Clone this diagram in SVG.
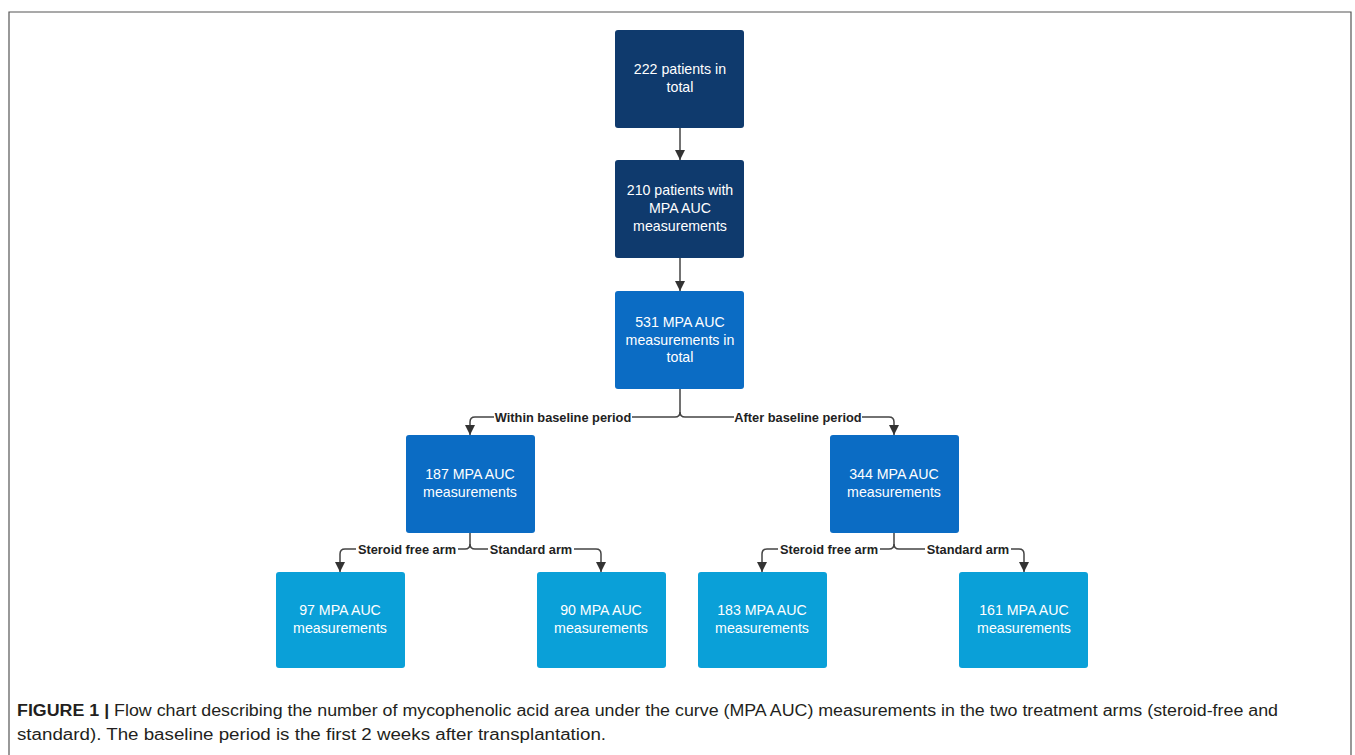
<svg xmlns="http://www.w3.org/2000/svg" width="1355" height="755" viewBox="0 0 1355 755">
<defs>
<marker id="arr" viewBox="0 0 10 10" refX="10" refY="5" markerWidth="10" markerHeight="11" markerUnits="userSpaceOnUse" orient="auto">
<path d="M0,0 L10,5 L0,10 Z" fill="#333"/>
</marker>
<style>
.n1{fill:#0f3a6d}
.n2{fill:#0b6cc4}
.n3{fill:#0aa0d8}
.bt{font-family:"Liberation Sans",Arial,sans-serif;font-size:14.2px;fill:#fff;text-anchor:middle}
.c{fill:none;stroke:#444;stroke-width:1.5}
.lb{font-family:"Liberation Sans",Arial,sans-serif;font-size:12.8px;font-weight:bold;fill:#222;text-anchor:middle}
.cap{font-family:"Liberation Sans",Arial,sans-serif;font-size:16px;fill:#231f20}
</style>
</defs>
<rect width="1355" height="755" fill="#fff"/>
<path d="M9,760 L9,12 L1351,12 L1351,760" fill="none" stroke="#555" stroke-width="1.2"/>
<g id="connectors">
<path class="c" d="M680,128 V160" marker-end="url(#arr)"/>
<path class="c" d="M680,258 V291" marker-end="url(#arr)"/>
<path class="c" d="M680,389 V412 Q680,417 675,417 H475 Q470,417 470,422 V435" marker-end="url(#arr)"/>
<path class="c" d="M680,412 Q680,417 685,417 H889 Q894,417 894,422 V435" marker-end="url(#arr)"/>
<path class="c" d="M470,533 V544 Q470,549 465,549 H345 Q340,549 340,554 V572" marker-end="url(#arr)"/>
<path class="c" d="M470,544 Q470,549 475,549 H596 Q601,549 601,554 V572" marker-end="url(#arr)"/>
<path class="c" d="M894,533 V544 Q894,549 889,549 H767 Q762,549 762,554 V572" marker-end="url(#arr)"/>
<path class="c" d="M894,544 Q894,549 899,549 H1019 Q1024,549 1024,554 V572" marker-end="url(#arr)"/>
<rect x="494" y="409" width="138" height="16" fill="#fff"/>
<text class="lb" x="563" y="421.5">Within baseline period</text>
<rect x="734" y="409" width="128" height="16" fill="#fff"/>
<text class="lb" x="798" y="421.5">After baseline period</text>
<rect x="356" y="541" width="102" height="16" fill="#fff"/>
<text class="lb" x="407" y="553.5">Steroid free arm</text>
<rect x="488" y="541" width="86" height="16" fill="#fff"/>
<text class="lb" x="531" y="553.5">Standard arm</text>
<rect x="778" y="541" width="102" height="16" fill="#fff"/>
<text class="lb" x="829" y="553.5">Steroid free arm</text>
<rect x="925" y="541" width="86" height="16" fill="#fff"/>
<text class="lb" x="968" y="553.5">Standard arm</text>
</g>
<g id="n222"><rect class="n1" x="615" y="30" width="129" height="98" rx="3"/>
<text class="bt" x="680" y="74">222 patients in</text><text class="bt" x="680" y="92">total</text></g>
<g id="n210"><rect class="n1" x="615" y="160" width="129" height="98" rx="3"/>
<text class="bt" x="680" y="195">210 patients with</text><text class="bt" x="680" y="213">MPA AUC</text><text class="bt" x="680" y="231">measurements</text></g>
<g id="n531"><rect class="n2" x="615" y="291" width="129" height="98" rx="3"/>
<text class="bt" x="680" y="327">531 MPA AUC</text><text class="bt" x="680" y="345">measurements in</text><text class="bt" x="680" y="362">total</text></g>
<g id="n187"><rect class="n2" x="406" y="435" width="129" height="98" rx="3"/>
<text class="bt" x="470" y="479">187 MPA AUC</text><text class="bt" x="470" y="497">measurements</text></g>
<g id="n344"><rect class="n2" x="830" y="435" width="129" height="98" rx="3"/>
<text class="bt" x="894" y="479">344 MPA AUC</text><text class="bt" x="894" y="497">measurements</text></g>
<g id="n97"><rect class="n3" x="276" y="572" width="129" height="96" rx="3"/>
<text class="bt" x="340" y="615">97 MPA AUC</text><text class="bt" x="340" y="633">measurements</text></g>
<g id="n90"><rect class="n3" x="537" y="572" width="129" height="96" rx="3"/>
<text class="bt" x="601" y="615">90 MPA AUC</text><text class="bt" x="601" y="633">measurements</text></g>
<g id="n183"><rect class="n3" x="698" y="572" width="129" height="96" rx="3"/>
<text class="bt" x="762" y="615">183 MPA AUC</text><text class="bt" x="762" y="633">measurements</text></g>
<g id="n161"><rect class="n3" x="959" y="572" width="129" height="96" rx="3"/>
<text class="bt" x="1024" y="615">161 MPA AUC</text><text class="bt" x="1024" y="633">measurements</text></g>
<text class="cap" x="17" y="716" textLength="1261" lengthAdjust="spacingAndGlyphs"><tspan font-weight="bold">FIGURE 1 |</tspan> Flow chart describing the number of mycophenolic acid area under the curve (MPA AUC) measurements in the two treatment arms (steroid-free and</text>
<text class="cap" x="17" y="740" textLength="589" lengthAdjust="spacingAndGlyphs">standard). The baseline period is the first 2 weeks after transplantation.</text>
</svg>
